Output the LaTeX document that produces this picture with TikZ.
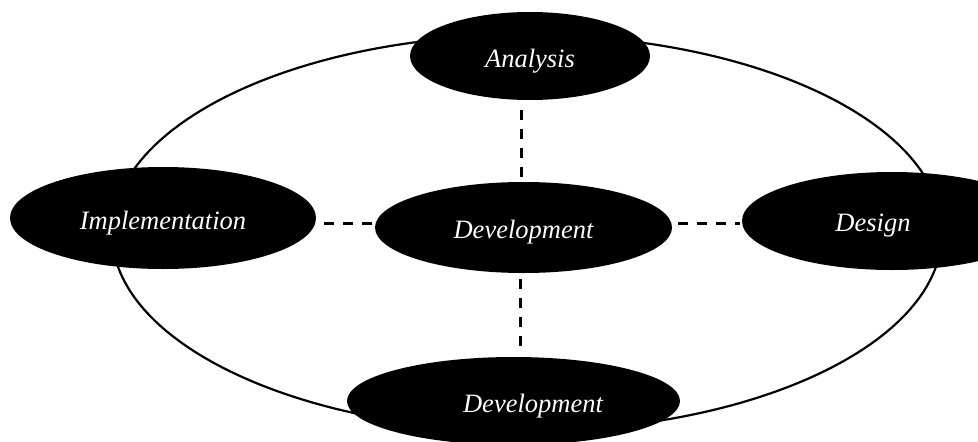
\documentclass[tikz,border=0pt]{standalone}
\usepackage{fontspec}
\setmainfont{Liberation Serif}
\usetikzlibrary{shapes.geometric}
\newcommand{\lowtext}[1]{\raisebox{-5pt}[\height][\depth]{#1}}
\tikzset{
  blob/.style={ellipse, fill=black, draw=none, inner sep=0pt, text=white,
    font=\fontsize{26.5}{30}\selectfont\itshape},
  dashline/.style={line width=3pt, dash pattern=on 10pt off 9pt},
  ring/.style={line width=2.2pt}
}
\begin{document}
\begin{tikzpicture}[x=1pt,y=-1pt]
\useasboundingbox (0,0) rectangle (978,442);
\clip (0,0) rectangle (978,442);
% big ring
\draw[ring] (527,233) ellipse [x radius=415pt, y radius=198pt];
% nodes
\node[blob, minimum width=240pt, minimum height=88pt] (analysis) at (530,56) {\lowtext{Analysis}};
\node[blob, minimum width=306pt, minimum height=102pt] (impl) at (163,218) {\lowtext{Implementation}};
\node[blob, minimum width=297pt, minimum height=91pt] (dev) at (523.5,227.5) {\lowtext{Development}};
\node[blob, minimum width=300pt, minimum height=98pt] (design) at (892,221) {\hspace*{-38pt}\lowtext{Design}};
\node[blob, minimum width=333pt, minimum height=88pt] (bottom) at (513.5,401) {\lowtext{Development}\hspace*{-39pt}};
% dashed connectors
\draw[dashline, shorten <=5pt, shorten >=10pt] ([xshift=-2.5pt]dev.north) -- ([xshift=-2.5pt]dev.north |- analysis.south);
\draw[dashline, shorten <=6pt, shorten >=2pt] ([xshift=-3.5pt]dev.south) -- ([xshift=-3.5pt]dev.south |- bottom.north);
\draw[dashline, shorten <=3pt, shorten >=5pt] ([yshift=4.5pt]dev.west) -- ([yshift=4.5pt]dev.west -| impl.east);
\draw[dashline, shorten <=6pt, shorten >=2pt] ([yshift=4.5pt]dev.east) -- ([yshift=4.5pt]dev.east -| design.west);
\end{tikzpicture}
\end{document}
